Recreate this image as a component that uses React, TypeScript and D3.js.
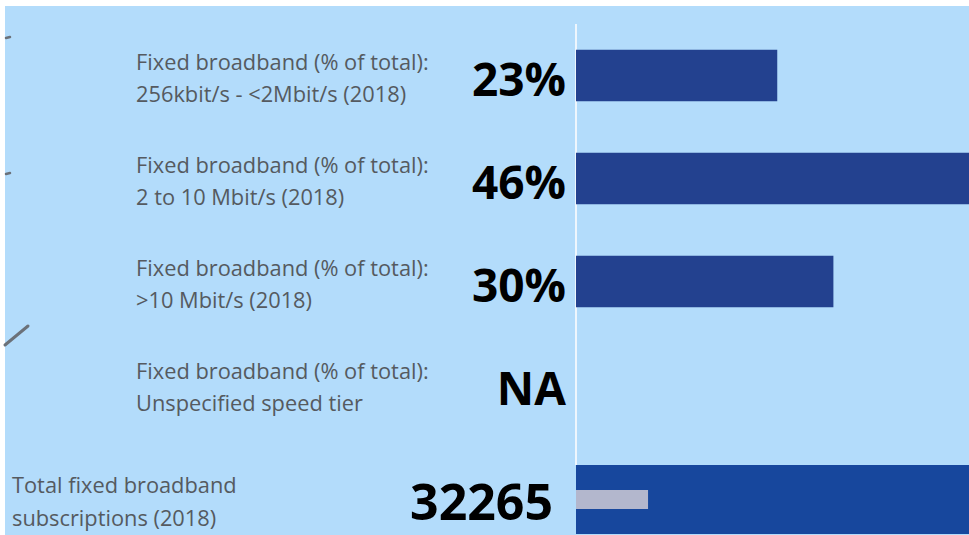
import { useEffect, useRef } from "react";
import * as d3 from "d3";

// speed tier rows (two-line labels)
const tierLabels = [
  ["Fixed broadband (% of total):", "256kbit/s - <2Mbit/s (2018)"],
  ["Fixed broadband (% of total):", "2 to 10 Mbit/s (2018)"],
  ["Fixed broadband (% of total):", ">10 Mbit/s (2018)"],
  ["Fixed broadband (% of total):", "Unspecified speed tier"],
];
const tierShares = [23.3, 46.2, 29.8, null];
const tierValueLabels = ["23%", "46%", "30%", "NA"];

// total row
const totalLabel = ["Total fixed broadband", "subscriptions (2018)"];
const totalSubscriptions = 32265;
const totalReference = 200000;

const W = 969;
const H = 535;

export default function App() {
  const svgRef = useRef<SVGSVGElement>(null);

  useEffect(() => {
    if (!svgRef.current) return;
    const svg = d3.select(svgRef.current);
    svg.selectAll("*").remove();

    const font = "'Open Sans', 'Noto Sans', sans-serif";
    const x0 = 576;

    svg.append("rect").attr("width", W).attr("height", H).attr("fill", "#ffffff");

    // panel background
    svg
      .append("rect")
      .attr("x", 5)
      .attr("y", 6)
      .attr("width", W - 5)
      .attr("height", H - 6)
      .attr("fill", "#b3dcfb");

    svg
      .append("defs")
      .append("clipPath")
      .attr("id", "plot")
      .append("rect")
      .attr("x", x0)
      .attr("y", 0)
      .attr("width", W - x0)
      .attr("height", H);

    // bits of a neighbouring sheet cut off on the left
    const stub = svg.append("g").attr("stroke", "#6b7179").attr("stroke-linecap", "round");
    stub.append("line").attr("x1", 6).attr("y1", 38).attr("x2", 10).attr("y2", 37).attr("stroke-width", 2.5);
    stub.append("line").attr("x1", 6).attr("y1", 174).attr("x2", 10).attr("y2", 173).attr("stroke-width", 2.5);
    stub.append("line").attr("x1", 5).attr("y1", 345).attr("x2", 28).attr("y2", 326).attr("stroke-width", 3);

    const x = d3.scaleLinear().domain([0, 45.5]).range([x0, W]);
    const y = d3
      .scaleBand<number>()
      .domain(d3.range(tierLabels.length))
      .range([24, 436])
      .paddingInner(0.5)
      .paddingOuter(0.25);

    // zero line
    svg
      .append("line")
      .attr("x1", x0)
      .attr("x2", x0)
      .attr("y1", 24)
      .attr("y2", 465)
      .attr("stroke", "#eef6fd")
      .attr("stroke-width", 2);

    const labelSize = 21.8;
    const rows = svg.append("g");
    tierLabels.forEach((lines, i) => {
      const cy = y(i)! + y.bandwidth() / 2;
      const t = rows
        .append("text")
        .attr("x", 136)
        .attr("fill", "#555a60")
        .attr("font-family", font)
        .attr("font-size", labelSize);
      lines.forEach((ln, j) => {
        t.append("tspan")
          .attr("x", 136)
          .attr("y", cy - 14 + j * 32)
          .attr("dominant-baseline", "central")
          .text(ln);
      });

      rows
        .append("text")
        .attr("x", 566)
        .attr("y", cy + 2)
        .attr("text-anchor", "end")
        .attr("dominant-baseline", "central")
        .attr("font-family", font)
        .attr("font-weight", 700)
        .attr("font-size", 46)
        .attr("fill", "#000")
        .text(tierValueLabels[i]);

      const v = tierShares[i];
      if (v != null) {
        rows
          .append("rect")
          .attr("clip-path", "url(#plot)")
          .attr("x", x(0))
          .attr("y", y(i)!)
          .attr("width", x(v) - x(0))
          .attr("height", y.bandwidth())
          .attr("fill", "#23418f");
      }
    });

    // total row
    const xt = d3.scaleLinear().domain([0, 176000]).range([x0, W]);
    const totalTop = 465;
    svg
      .append("rect")
      .attr("clip-path", "url(#plot)")
      .attr("x", xt(0))
      .attr("y", totalTop)
      .attr("width", xt(totalReference) - xt(0))
      .attr("height", 69)
      .attr("fill", "#17479d");
    svg
      .append("rect")
      .attr("x", xt(0))
      .attr("y", totalTop + 25)
      .attr("width", xt(totalSubscriptions) - xt(0))
      .attr("height", 19)
      .attr("fill", "#b3b7cd");

    const tt = svg
      .append("text")
      .attr("fill", "#555a60")
      .attr("font-family", font)
      .attr("font-size", labelSize);
    totalLabel.forEach((ln, j) => {
      tt.append("tspan")
        .attr("x", 12)
        .attr("y", 484 + j * 33)
        .attr("dominant-baseline", "central")
        .text(ln);
    });
    svg
      .append("text")
      .attr("x", 553)
      .attr("y", 501)
      .attr("text-anchor", "end")
      .attr("dominant-baseline", "central")
      .attr("font-family", font)
      .attr("font-weight", 700)
      .attr("font-size", 50)
      .attr("fill", "#000")
      .text(String(totalSubscriptions));
  }, []);

  return (
    <svg
      ref={svgRef}
      width={W}
      height={H}
      style={{ position: "absolute", left: 0, top: 0, display: "block" }}
    ></svg>
  );
}
